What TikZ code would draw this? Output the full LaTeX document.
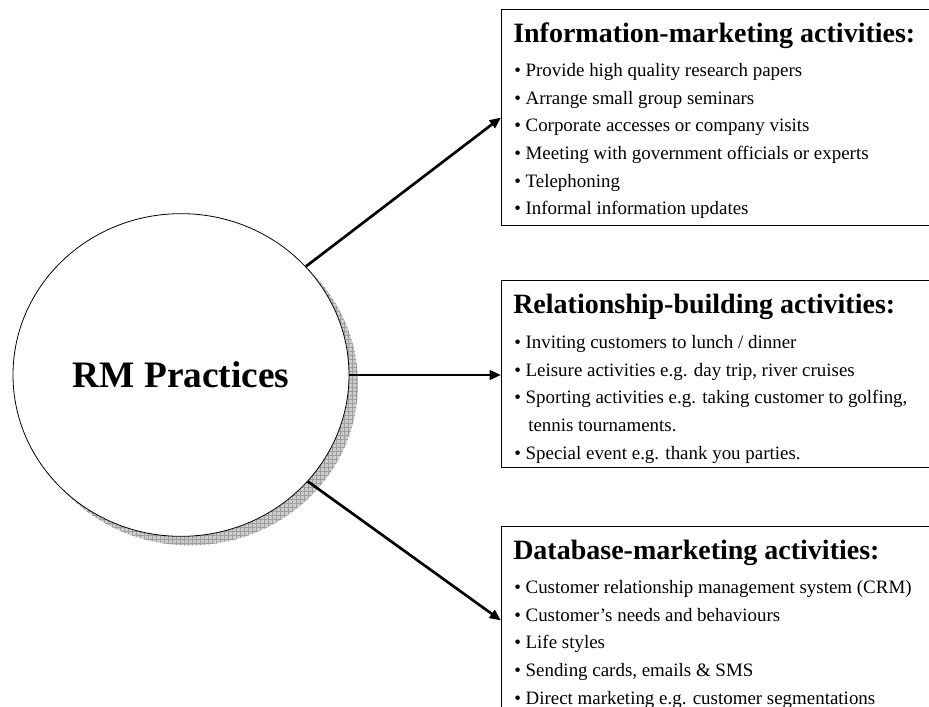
\documentclass[tikz,border=0pt]{standalone}
\usepackage{fontspec}
\setmainfont{Liberation Serif}
\usetikzlibrary{arrows.meta,shapes.geometric,patterns}

\begin{document}
\begin{tikzpicture}
                \tikzset{x=0.75pt, y=-0.75pt}
                \tikzstyle{oval}=[ellipse, inner sep=0pt, minimum width=252pt, minimum height=242pt]
                \tikzstyle{box}=[rectangle, draw, line width=0.7pt, anchor=north west, inner sep=0pt, minimum width=340pt]
                \tikzstyle{head}=[anchor=base west, inner sep=0pt, font=\fontsize{21}{25}\selectfont\bfseries]
                \tikzstyle{item}=[anchor=base west, inner sep=0pt, font=\fontsize{14.2}{17}\selectfont]
                \tikzstyle{link}=[-{Triangle[length=8.5pt, width=7pt]}, line width=2pt]

                \useasboundingbox (0,0) rectangle (929,707);
                \clip (0,0) rectangle (929,707);

                \draw (190, 384)    node[oval, preaction={fill=black!20}, pattern=grid, pattern color=black!38] (rmshadow) {};
                \draw (181, 375)    node[oval, draw, fill=white, line width=0.6pt,
                                         font=\fontsize{28}{32}\selectfont\bfseries] (rm) {RM Practices};

                \draw (501, 9)      node[box, minimum height=162pt]     (info)  {};
                \draw (501, 280)    node[box, minimum height=140.25pt]  (rel)   {};
                \draw (501, 526)    node[box, minimum height=141pt]     (data)  {};

                \draw (513, 42)     node[head]  (infohead)  {Information-marketing activities:};
                \draw (514, 76)     node[item]  (info1)     {• Provide high quality research papers};
                \draw (514, 104)    node[item]  (info2)     {• Arrange small group seminars};
                \draw (514, 131)    node[item]  (info3)     {• Corporate accesses or company visits};
                \draw (514, 159)    node[item]  (info4)     {• Meeting with government officials or experts};
                \draw (514, 187)    node[item]  (info5)     {• Telephoning};
                \draw (514, 214)    node[item]  (info6)     {• Informal information updates};

                \draw (513, 313)    node[head]  (relhead)   {Relationship-building activities:};
                \draw (514, 348)    node[item]  (rel1)      {• Inviting customers to lunch / dinner};
                \draw (514, 376)    node[item]  (rel2)      {• Leisure activities e.g. day trip, river cruises};
                \draw (514, 403)    node[item]  (rel3)      {• Sporting activities e.g. taking customer to golfing,};
                \draw (528, 431)    node[item]  (rel3b)     {tennis tournaments.};
                \draw (514, 459)    node[item]  (rel4)      {• Special event e.g. thank you parties.};

                \draw (513, 559)    node[head]  (datahead)  {Database-marketing activities:};
                \draw (514, 593)    node[item]  (data1)     {• Customer relationship management system (CRM)};
                \draw (514, 621)    node[item]  (data2)     {• Customer's needs and behaviours};
                \draw (514, 648)    node[item]  (data3)     {• Life styles};
                \draw (514, 676)    node[item]  (data4)     {• Sending cards, emails \& SMS};
                \draw (514, 704)    node[item]  (data5)     {• Direct marketing e.g. customer segmentations};

                \draw [link]        (rm.41) -- (info.west);
                \draw [link]        (rm.east) -- (rel.west |- rm.east);
                \draw [link]        (rm.-40) -- (data.west);
            \end{tikzpicture}
\end{document}
